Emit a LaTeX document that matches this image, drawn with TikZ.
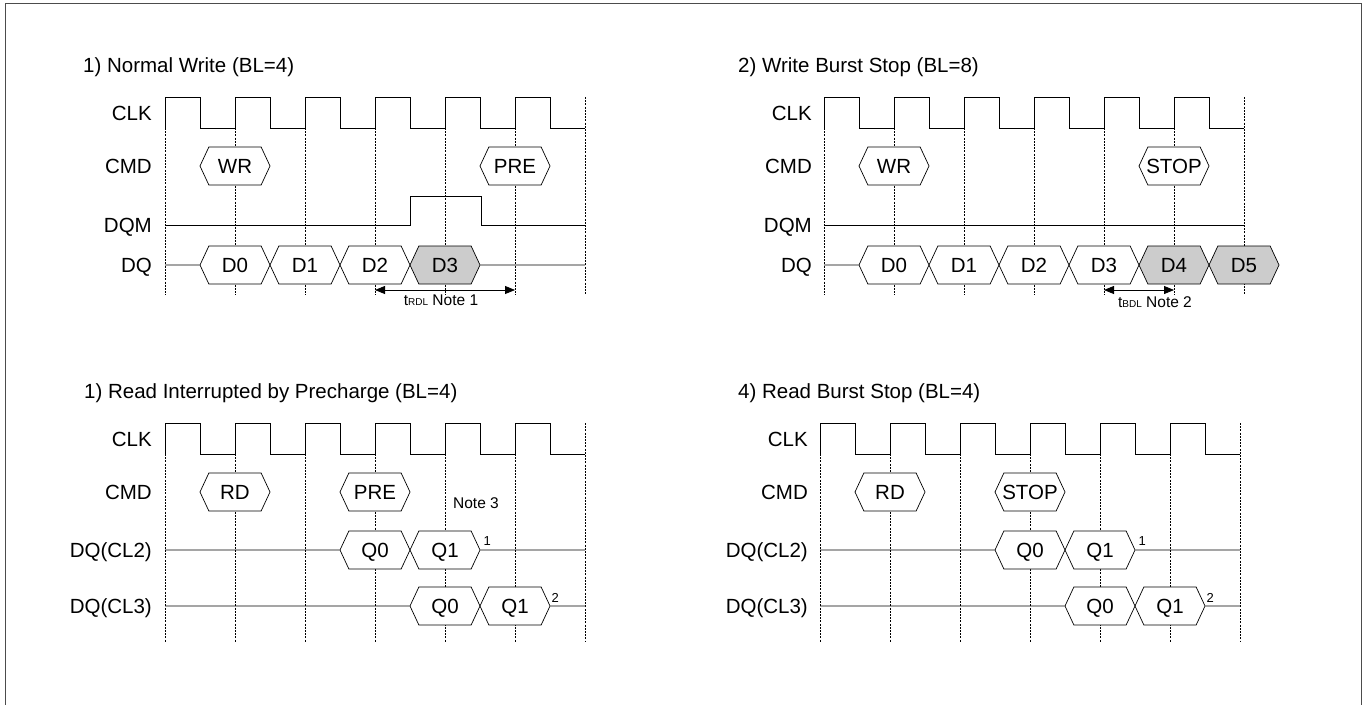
\documentclass[tikz,border=0pt]{standalone}
\usepackage{fontspec}
\setmainfont{Liberation Sans}
\usetikzlibrary{positioning,shapes.symbols,arrows.meta}

\tikzstyle{hexbox} = [signal, signal to=west and east, signal pointer angle=130,
minimum width=70pt, minimum height=38pt, inner sep=0pt, text height=14.7pt,
text depth=0pt, draw=black, line width=0.7pt, fill=white]
\tikzstyle{greyhex} = [hexbox, fill=black!20]
\tikzstyle{siglabel} = [anchor=east, inner sep=0pt, text height=14.7pt, text depth=0pt]
\tikzstyle{panelhead} = [anchor=base west, inner sep=0pt]
\tikzstyle{notetext} = [inner sep=0pt, font=\fontsize{15.5}{18}\selectfont]
\tikzstyle{notenum} = [anchor=base west, inner sep=0pt, font=\fontsize{13}{15}\selectfont]
\tikzstyle{wave} = [line width=0.9pt]
\tikzstyle{sigline} = [line width=0.8pt]
\tikzstyle{cycleline} = [line width=0.6pt, dash pattern=on 2pt off 1.2pt]
\tikzstyle{doublearrow} = [line width=0.8pt,
{Triangle[length=10pt,width=8pt]}-{Triangle[length=10pt,width=8pt]}]

\begin{document}
\begin{tikzpicture}[x=1pt, y=-1pt, node distance=70pt, font=\fontsize{20.5}{24}\selectfont]
    \useasboundingbox (0,0) rectangle (1365,704);
    % Frame
    \draw [line width=1pt, black!70] (5,708) -- (5,3) -- (1361,3) -- (1361,708);

    % 1) Normal Write
    \node (heada) [panelhead] at (83,72) {1) Normal Write (BL=4)};
    \node (CLKa) [siglabel] at (152,113) {CLK};
    \node (CMDa) [siglabel] at (152,166) {CMD};
    \node (DQMa) [siglabel] at (152,225) {DQM};
    \node (DQa) [siglabel] at (152,265) {DQ};
    \foreach \x in {165,235,...,515}
      \draw [cycleline] (\x,128) -- (\x,295);
    \draw [cycleline] (585,97) -- (585,295);
    \draw [wave] (165,128) \foreach \x in {165,235,...,515}
      {-- (\x,128) -- (\x,97) -- (\x+35,97) -- (\x+35,128)} -- (585,128);
    \node (WRa) [hexbox] at (235,166) {WR};
    \node (PREa) [hexbox] at (515,166) {PRE};
    \draw [sigline] (165,225) -- (410,225) -- (410,196) -- (481,196) -- (481,225) -- (585,225);
    \node (D0a) [hexbox] at (235,265) {D0};
    \node (D1a) [hexbox, right of=D0a] {D1};
    \node (D2a) [hexbox, right of=D1a] {D2};
    \node (D3a) [greyhex, right of=D2a] {D3};
    \coordinate (dqina) at (165,265);
    \coordinate (dqouta) at (585,265);
    \draw [sigline] (dqina) -- (D0a);
    \draw [sigline] (D3a) -- (dqouta);
    \coordinate (rdlL) at (375,290);
    \coordinate (rdlR) at (515,290);
    \draw [doublearrow] (rdlL) -- (rdlR);
    \node (rdl) [notetext] at (441,300) {t{\fontsize{10}{10}\selectfont RDL} Note 1};

    % 2) Write Burst Stop
    \node (headb) [panelhead] at (738,72) {2) Write Burst Stop (BL=8)};
    \node (CLKb) [siglabel] at (812,113) {CLK};
    \node (CMDb) [siglabel] at (812,166) {CMD};
    \node (DQMb) [siglabel] at (812,225) {DQM};
    \node (DQb) [siglabel] at (812,265) {DQ};
    \foreach \x in {824,894,...,1174}
      \draw [cycleline] (\x,128) -- (\x,295);
    \draw [cycleline] (1244,97) -- (1244,295);
    \draw [wave] (824,128) \foreach \x in {824,894,...,1174}
      {-- (\x,128) -- (\x,97) -- (\x+35,97) -- (\x+35,128)} -- (1244,128);
    \node (WRb) [hexbox] at (894,166) {WR};
    \node (STOPb) [hexbox, inner xsep=-2pt] at (1174,166) {STOP};
    \draw [sigline] (824,225) -- (1244,225);
    \node (D0b) [hexbox] at (894,265) {D0};
    \node (D1b) [hexbox, right of=D0b] {D1};
    \node (D2b) [hexbox, right of=D1b] {D2};
    \node (D3b) [hexbox, right of=D2b] {D3};
    \node (D4b) [greyhex, right of=D3b] {D4};
    \node (D5b) [greyhex, right of=D4b] {D5};
    \coordinate (dqinb) at (824,265);
    \draw [sigline] (dqinb) -- (D0b);
    \coordinate (bdlL) at (1104,290);
    \coordinate (bdlR) at (1174,290);
    \draw [doublearrow] (bdlL) -- (bdlR);
    \node (bdl) [notetext] at (1155,302) {t{\fontsize{10}{10}\selectfont BDL} Note 2};

    % 1) Read Interrupted by Precharge
    \node (headc) [panelhead] at (84,398) {1) Read Interrupted by Precharge (BL=4)};
    \node (CLKc) [siglabel] at (152,439) {CLK};
    \node (CMDc) [siglabel] at (152,492) {CMD};
    \node (CLtwoc) [siglabel] at (152,550) {DQ(CL2)};
    \node (CLthreec) [siglabel] at (152,606) {DQ(CL3)};
    \foreach \x in {165,235,...,515}
      \draw [cycleline] (\x,454) -- (\x,642);
    \draw [cycleline] (585,423) -- (585,642);
    \draw [wave] (165,454) \foreach \x in {165,235,...,515}
      {-- (\x,454) -- (\x,423) -- (\x+35,423) -- (\x+35,454)} -- (585,454);
    \node (RDc) [hexbox] at (235,492) {RD};
    \node (PREc) [hexbox] at (375,492) {PRE};
    \node (note3) [notetext] at (476,503) {Note 3};
    \node (Q0CL2c) [hexbox] at (375,550) {Q0};
    \node (Q1CL2c) [hexbox, right of=Q0CL2c] {Q1};
    \node (Q0CL3c) [hexbox] at (445,606) {Q0};
    \node (Q1CL3c) [hexbox, right of=Q0CL3c] {Q1};
    \coordinate (cltwoinc) at (165,550);
    \coordinate (cltwooutc) at (585,550);
    \coordinate (clthreeinc) at (165,606);
    \coordinate (clthreeoutc) at (585,606);
    \draw [sigline] (cltwoinc) -- (Q0CL2c);
    \draw [sigline] (Q1CL2c) -- (cltwooutc);
    \draw [sigline] (clthreeinc) -- (Q0CL3c);
    \draw [sigline] (Q1CL3c) -- (clthreeoutc);
    \node (fn1c) [notenum] at ([xshift=3pt,yshift=5pt]Q1CL2c.east) {1};
    \node (fn2c) [notenum] at ([xshift=1pt,yshift=4pt]Q1CL3c.east) {2};

    % 4) Read Burst Stop
    \node (headd) [panelhead] at (738,398) {4) Read Burst Stop (BL=4)};
    \node (CLKd) [siglabel] at (808,439) {CLK};
    \node (CMDd) [siglabel] at (808,492) {CMD};
    \node (CLtwod) [siglabel] at (808,550) {DQ(CL2)};
    \node (CLthreed) [siglabel] at (808,606) {DQ(CL3)};
    \foreach \x in {820,890,...,1170}
      \draw [cycleline] (\x,454) -- (\x,642);
    \draw [cycleline] (1240,423) -- (1240,642);
    \draw [wave] (820,454) \foreach \x in {820,890,...,1170}
      {-- (\x,454) -- (\x,423) -- (\x+35,423) -- (\x+35,454)} -- (1240,454);
    \node (RDd) [hexbox] at (890,492) {RD};
    \node (STOPd) [hexbox, inner xsep=-2pt] at (1030,492) {STOP};
    \node (Q0CL2d) [hexbox] at (1030,550) {Q0};
    \node (Q1CL2d) [hexbox, right of=Q0CL2d] {Q1};
    \node (Q0CL3d) [hexbox] at (1100,606) {Q0};
    \node (Q1CL3d) [hexbox, right of=Q0CL3d] {Q1};
    \coordinate (cltwoind) at (820,550);
    \coordinate (cltwooutd) at (1240,550);
    \coordinate (clthreeind) at (820,606);
    \coordinate (clthreeoutd) at (1240,606);
    \draw [sigline] (cltwoind) -- (Q0CL2d);
    \draw [sigline] (Q1CL2d) -- (cltwooutd);
    \draw [sigline] (clthreeind) -- (Q0CL3d);
    \draw [sigline] (Q1CL3d) -- (clthreeoutd);
    \node (fn1d) [notenum] at ([xshift=3pt,yshift=5pt]Q1CL2d.east) {1};
    \node (fn2d) [notenum] at ([xshift=1pt,yshift=4pt]Q1CL3d.east) {2};
\end{tikzpicture}
\end{document}
